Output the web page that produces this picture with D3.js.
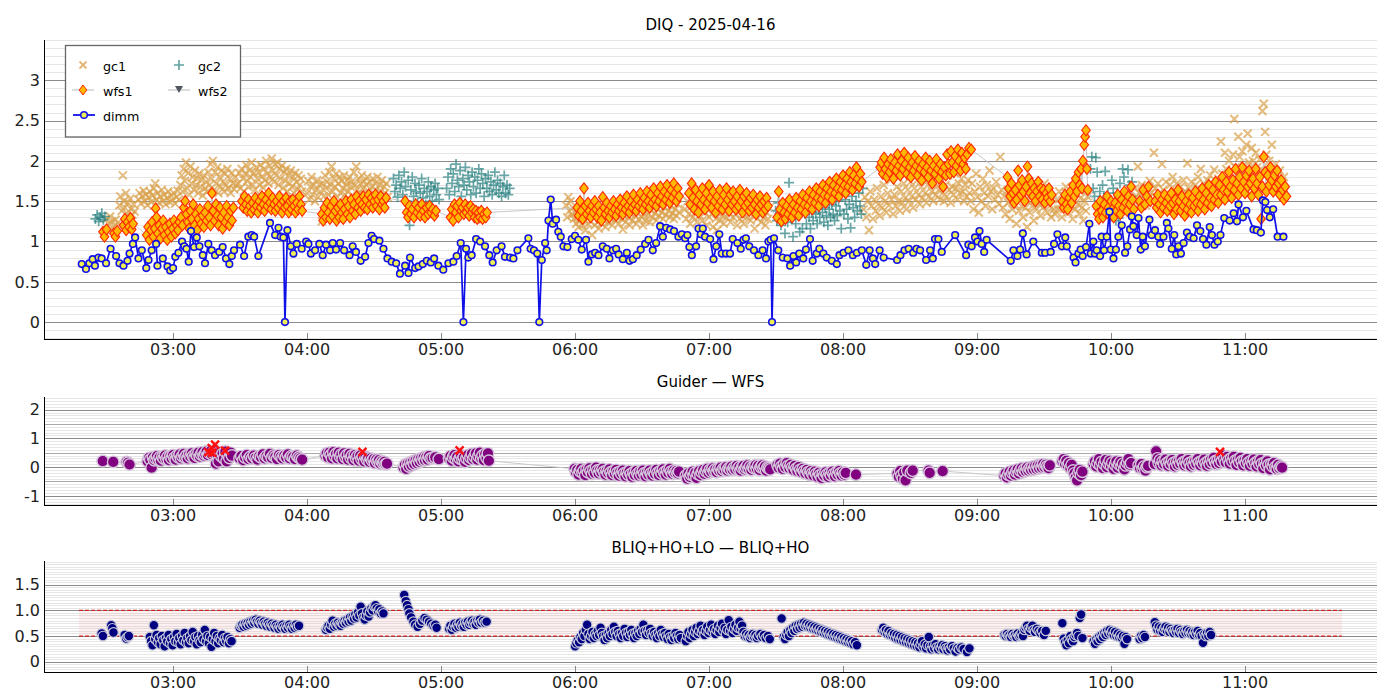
<!DOCTYPE html>
<html>
<head>
<meta charset="utf-8">
<script src="https://cdn.jsdelivr.net/npm/d3@7"></script>
<style>
body { margin: 0; background: #fff; }
text { font-family: "DejaVu Sans", sans-serif; }
</style>
</head>
<body>
<script>
// all times are minutes after 00:00 UT, values in arcsec
var dimm = [[139.1,.72],[141,.66],[142.5,.73],[144,.78],[145,.70],[146.6,.80],[148,.79],[150,.73],[152,.91],[154.5,.82],[156,.73],[157.8,.70],[159.6,.76],[160.5,.85],[162,.97],[163,1.05],[164.5,.79],[166,.89],[168,.67],[169,.77],[170.4,.89],[172.4,.97],[173,.70],[175.4,.79],[177.5,.69],[178.7,.64],[180,.67],[181,.81],[182.4,.86],[184,1.0],[185,.94],[186,.91],[187,.75],[188,1.13],[189.4,.93],[190.6,1.05],[191.8,.94],[193.3,.83],[194.3,.73],[195.8,.97],[197.3,.89],[198.8,.83],[200.7,.87],[202.2,.93],[203.7,.79],[205.2,.72],[206.3,.82],[207.3,.89],[210,.96],[211.8,.82],[213.7,1.06],[215.2,1.08],[216.3,1.06],[218.2,.82],[223.4,1.23],[225.7,1.08],[227.2,1.17],[228.2,1.06],[229.4,1.05],[230.1,0],[231.2,1.14],[232.7,.94],[233.9,.85],[235.4,.97],[237.6,.91],[239.6,1.0],[240.6,.97],[241.7,.85],[243.6,.89],[245.5,.97],[247,.83],[248.5,.96],[250.3,.89],[251.5,.98],[253,.90],[254.8,.98],[256.6,.89],[259,.83],[260.4,.94],[261.9,.87],[264,.76],[266,.81],[267.5,.98],[268.9,1.07],[270,1.03],[272.4,1.01],[274.2,.91],[276,.79],[277.9,.75],[279.9,.73],[281.6,.60],[283.9,.70],[285.4,.61],[286.1,.80],[288.4,.67],[289.9,.69],[291.8,.72],[293.6,.76],[295.4,.74],[296.9,.79],[298.8,.70],[301,.65],[303.3,.73],[305.5,.75],[307,.82],[308.8,.98],[310,0],[311.2,.91],[312.2,.80],[313.7,.83],[315.7,1.03],
[317.5,1.0],[319.7,.94],[321.6,.83],[323.1,.74],[324.9,.89],[327.1,.94],[328.6,.81],[330.9,.80],[332.4,.79],[334.2,.89],[339.1,1.04],[340.1,.91],[341.6,.89],[343.1,.85],[344,0],[345.1,.77],[346.6,.98],[347.3,.89],[348.1,1.26],[349.1,1.52],[350,1.22],[351.5,1.27],[352.5,1.12],[353.6,1.06],[354.8,.94],[356.6,.93],[358.5,1.03],[360,1.07],[361.5,1.02],[363,.90],[364.9,1.02],[366,.75],[367.5,.84],[369,.86],[370.5,.83],[372.4,.94],[374.2,.91],[375.4,.79],[376.9,.89],[378.4,.91],[379.5,.84],[381.4,.78],[383.2,.86],[384.4,.76],[385.9,.78],[387.6,.83],[389.4,.90],[391.4,.97],[392.9,1.02],[394.8,.89],[396.3,.98],[398.1,1.19],[399.3,1.06],[400.8,1.17],[402.6,1.15],[404.3,1.13],[406.3,1.06],[407.8,1.09],[409.3,1.04],[410.3,1.08],[411.2,.93],[412.3,.83],[414.2,.94],[415.3,1.16],[416.3,1.09],[417.2,1.16],[418.2,1.06],[420.5,1.03],[422,.78],[423.2,.94],[424.6,1.09],[425.7,.85],[427.6,.85],[429.4,.85],[430.6,1.03],[432.7,.98],[434.2,.91],[435.4,1.02],[436.5,1.04],[438,.94],[440.1,.89],[442.1,.83],[444,.89],[445.5,.79],[446.6,1.0],[447.6,1.02],[448.2,0],[449.1,1.04],[451,.89],[453,.80],[455.1,.79],[456.3,.70],[457.8,.82],[459,.74],[460.4,.85],[462.2,.79],[463.4,.90],[465.2,1.03],[466.4,.76],[468.2,.85],[469.4,.91],[471.2,.85],[472.7,.80],[475,.76],[477.2,.72],[478.4,.83],[480.2,.86],[482.4,.89],[484.4,.83],[486.2,.86],[488.4,.89],[490.4,.71],[491.9,.89],[493.4,.79],[494.4,.72],[496.4,.89],[498.2,.80],[504.2,.77],[505.7,.83],[507.5,.89],[509.4,.91],[511.4,.86],[512.9,.91],
[514.5,.89],[517.2,.77],[519,.89],[520.2,.79],[521.2,1.03],[522.7,1.03],[524.2,.87],[530.2,1.08],[535.1,.83],[536.1,.96],[537.6,.94],[539.1,1.05],[540.2,1.0],[541.1,1.13],[542.1,.97],[543.2,.87],[544.3,1.02],[555.1,.76],[556.3,.89],[558.1,.82],[559.3,.90],[560.5,1.10],[562.2,.84],[565.2,1.0],[569,.86],[570.5,.86],[573,.87],[574.5,.97],[576,1.09],[578,.94],[579.5,1.05],[580.2,.94],[583.2,.80],[584.1,.74],[585.4,.85],[586.4,.90],[587.3,.82],[588.8,.93],[590.3,1.22],[590.9,.85],[592.1,1.0],[592.8,.85],[593.6,.89],[595.1,.82],[595.8,1.06],[596.9,.89],[598.1,1.06],[599.3,1.37],[599.9,.90],[601.1,.79],[602.2,.90],[603.3,1.06],[604.8,1.20],[606.3,.86],[607.3,.94],[608.5,1.15],[609.3,1.31],[610,1.19],[611.5,1.08],[612.3,1.29],[613.3,.90],[614.2,1.06],[615.2,.94],[617.2,1.27],[618.2,1.08],[619.7,1.14],[621.2,1.06],[622,.97],[623.5,1.06],[625,1.23],[625.7,1.16],[627.2,.91],[628.3,1.08],[629.2,.84],[630.2,.94],[631.3,.85],[632.5,.98],[634,1.11],[635.2,1.06],[637,1.04],[638.5,1.20],[640,1.13],[641.2,1.03],[642.7,.96],[644.2,1.18],[645.2,1.08],[646.3,.96],[647.8,1.0],[649,1.08],[650.7,1.29],[653.1,1.26],[654.9,1.35],[656.4,1.25],[657.1,1.46],[659.1,1.30],[660.6,1.38],[663.8,1.15],[665.3,1.14],[667.1,1.11],[668,1.51],[669.1,1.49],[669.9,1.39],[671.1,1.30],[672.6,1.40],[674.6,1.06],[677.2,1.06]];

var gc1 = [[150,1.28],[151,1.22],[151.8,1.31],[152.6,1.25],[153.5,1.19],[154.3,1.27],[155.2,1.23],
[156,1.45],[156.4,1.56],[157,1.38],[157.5,1.82],[157.9,1.5],[158.4,1.42],[158.9,1.6],[159.3,1.35],[159.8,1.48],[160.3,1.3],[160.8,1.53],[161.3,1.4],[161.8,1.33],[162.3,1.46],[162.8,1.37],
[164.5,1.52],[165,1.6],[165.6,1.47],[166.2,1.56],[166.8,1.63],[167.3,1.5],[167.9,1.58],[168.5,1.45],[169,1.55],[169.6,1.62],[170.2,1.49],[170.8,1.57],[171.4,1.66],[172,1.72],[172.5,1.52],[173.1,1.6],[173.7,1.48],[174.3,1.56],[174.9,1.64],[175.5,1.5],[176.1,1.58],[176.7,1.46],[177.3,1.54],[177.9,1.62],[178.5,1.49],[179.1,1.57],[179.7,1.51],[180.3,1.6],[180.9,1.47],[181.5,1.55],[182.1,1.63],[182.7,1.52],
[183.3,1.7],[183.8,1.82],[184.3,1.62],[184.8,1.9],[185.3,1.75],[185.8,1.98],[186.3,1.66],[186.8,1.85],[187.3,1.58],[187.8,1.93],[188.3,1.72],[188.8,1.8],[189.3,1.64],[189.8,1.88],[190.3,1.7],[190.8,1.78],[191.3,1.6],[191.8,1.84],[192.3,1.68],[192.8,1.76],[193.3,1.57],[193.8,1.82],[194.3,1.66],[194.8,1.74],[195.3,1.62],[195.8,1.86],[196.3,1.7],[196.8,1.96],[197.3,1.78],[197.8,2.0],[198.3,1.64],[198.8,1.86],[199.3,1.72],[199.8,1.92],[200.3,1.6],[200.8,1.8],[201.3,1.68],[201.8,1.88],[202.3,1.74],[202.8,1.62],[203.3,1.84],[203.8,1.7],[204.3,1.9],[204.8,1.66],[205.3,1.78],[205.8,1.6],[206.3,1.85],[206.8,1.72],[207.3,1.65],[207.8,1.8],[208.3,1.7],
[209.2,1.72],[209.7,1.85],[210.2,1.66],[210.7,1.9],[211.2,1.78],[211.7,1.62],[212.2,1.84],[212.7,1.95],[213.2,1.75],[213.7,1.68],[214.2,1.88],[214.7,1.8],[215.2,1.98],[215.7,1.7],[216.2,1.85],[216.7,1.64],[217.2,1.92],[217.7,1.78],[218.2,1.86],[218.7,1.7],[219.2,1.95],[219.7,1.8],[220.2,1.67],[220.7,1.9],[221.2,1.76],[221.7,2.0],[222.2,1.84],[222.7,1.72],[223.2,1.94],[223.7,1.8],[224.2,2.03],[224.7,1.88],[225.2,1.74],[225.7,1.96],[226.2,1.82],[226.7,1.98],[227.2,1.7],[227.7,1.9],[228.2,1.78],[228.7,1.94],[229.2,1.66],[229.7,1.86],[230.2,1.75],[230.7,1.9],[231.2,1.62],[231.7,1.82],[232.2,1.72],[232.7,1.88],[233.2,1.68],[233.7,1.8],[234.2,1.6],[234.7,1.85],[235.2,1.74],[235.7,1.65],[236.2,1.82],[236.7,1.7],[237.2,1.78],[237.7,1.62],
[240,1.6],[240.5,1.75],[241,1.52],[241.5,1.68],[242,1.8],[242.5,1.58],[243,1.7],[243.5,1.5],[244,1.64],[244.5,1.76],[245,1.55],[245.5,1.7],[246,1.62],[246.6,1.25],[247,1.72],[247.5,1.56],[248,1.82],[248.5,1.66],[249,1.74],[249.5,1.58],[250,1.86],[250.5,1.7],[251,1.93],[251.5,1.62],[252,1.78],[252.5,1.68],[253,1.84],[253.5,1.55],[254,1.72],[254.5,1.8],[255,1.6],[255.5,1.75],[256,1.66],[256.5,1.82],[257,1.58],[257.5,1.7],[258,1.76],[258.5,1.62],[259,1.8],[259.5,1.68],[260,1.74],[260.5,1.56],[261,1.86],[261.5,1.7],[262,1.93],[262.5,1.64],[263,1.78],[263.5,1.6],[264,1.72],[264.5,1.82],[265,1.66],[265.5,1.75],[266,1.58],[266.5,1.7],[267,1.8],[267.5,1.62],[268,1.74],[268.5,1.55],[269,1.68],[269.5,1.78],[270,1.6],[270.5,1.72],[271,1.64],[271.5,1.8],[272,1.56],[272.5,1.7],[273,1.62],[273.5,1.76],[274,1.58],[274.5,1.68],[275,1.6],[275.5,1.72],[276,1.55],
[356,1.45],[356.5,1.3],[357,1.55],[357.5,1.38],[358,1.5],[358.5,1.33],[359,1.42],[359.5,1.28],[360,1.36],[360.5,1.22],[361,1.3],[361.6,1.18],[362.2,1.26],[362.8,1.34],[363.4,1.2],[364,1.28],[364.6,1.14],[365.2,1.3],[365.8,1.22],[366.4,1.36],[367,1.25],[367.6,1.08],[368.2,1.3],[368.8,1.2],[369.4,1.34],[370,1.24],[370.6,1.16],[371.2,1.3],[371.8,1.22],[372.4,1.38],[373,1.26],[373.6,1.18],[374.2,1.32],[374.8,1.24],[375.4,1.4],[376,1.28],[376.6,1.2],[377.2,1.34],[377.8,1.26],[378.4,1.42],[379,1.3],[379.6,1.22],[380.2,1.36],[380.8,1.28],[381.4,1.15],[382,1.32],[382.6,1.24],[383.2,1.4],[383.8,1.3],[384.4,1.2],[385,1.34],[385.6,1.26],[386.2,1.44],[386.8,1.32],[387.4,1.22],[388,1.36],[388.6,1.28],[389.2,1.42],[389.8,1.3],[390.4,1.2],[391,1.34],[391.6,1.26],[392.2,1.46],[392.8,1.34],[393.4,1.24],[394,1.38],[394.6,1.3],[395.2,1.48],[395.8,1.35],[396.4,1.26],[397,1.4],[397.6,1.32],[398.2,1.5],[398.8,1.36],[399.4,1.28],[400,1.42],[400.6,1.33],[401.2,1.52],[401.8,1.38],[402.4,1.3],[403,1.44],[403.6,1.35],[404.2,1.28],[404.8,1.4],[405.4,1.32],[406,1.46],[406.6,1.36],
[409.2,1.4],[409.8,1.28],[410.4,1.5],[411,1.34],[411.6,1.22],[412.2,1.44],[412.8,1.3],[413.4,1.52],[414,1.36],[414.6,1.24],[415.2,1.46],[415.8,1.32],[416.4,1.4],[417,1.26],[417.6,1.5],[418.2,1.36],[418.8,1.2],[419.4,1.42],[420,1.3],[420.6,1.48],[421.2,1.34],[421.8,1.18],[422.4,1.4],[423,1.28],[423.6,1.14],[424.2,1.36],[424.8,1.26],[425.4,1.44],[426,1.32],[426.6,1.22],[427.2,1.4],[427.8,1.3],[428.4,1.5],[429,1.36],[429.6,1.24],[430.2,1.42],[430.8,1.3],[431.4,1.46],[432,1.34],[432.6,1.2],[433.2,1.4],[433.8,1.28],[434.4,1.44],[435,1.32],[435.6,1.22],[436.2,1.4],[436.8,1.3],[437.4,1.5],[438,1.36],[438.6,1.26],[439.2,1.42],[439.8,1.32],[440.4,1.16],[441,1.38],[441.6,1.28],[442.2,1.46],[442.8,1.34],[443.4,1.24],[444,1.4],[444.6,1.3],[445.2,1.2],[445.8,1.36],[446.4,1.28],[447,1.42],
[489.2,1.4],[489.8,1.55],[490.4,1.3],[491,1.5],[491.6,1.14],[492.2,1.62],[492.8,1.44],[493.4,1.28],[494,1.52],[494.6,1.38],[495.2,1.66],[495.8,1.46],[496.4,1.32],[497,1.56],[497.6,1.42],[498.2,1.7],[498.8,1.5],[499.4,1.36],[500,1.6],[500.6,1.45],[501.2,1.76],[501.8,1.52],[502.4,1.34],[503,1.58],[503.6,1.44],[504.2,1.68],[504.8,1.5],[505.4,1.38],[506,1.62],[506.6,1.48],[507.2,1.72],[507.8,1.54],[508.4,1.4],[509,1.64],[509.6,1.5],[510.2,1.74],[510.8,1.56],[511.4,1.42],[512,1.66],[512.6,1.52],[513.2,1.76],[513.8,1.58],[514.4,1.46],[515,1.68],[515.6,1.54],[516.2,1.78],[516.8,1.6],[517.4,1.48],[518,1.7],[518.6,1.56],[519.2,1.82],[519.8,1.62],[520.4,1.5],[521,1.72],[521.6,1.58],[522.2,1.8],[522.8,1.64],[523.4,1.52],
[524,1.74],[524.6,1.6],[525.2,1.5],[525.8,1.7],[526.4,1.56],[527,1.82],[527.6,1.64],[528.2,1.48],[528.8,1.68],[529.4,1.58],[530,1.85],[530.6,1.66],[531.2,1.52],[531.8,1.72],[532.4,1.6],[533,1.78],[533.6,1.62],[534.2,1.5],[534.8,1.7],[535.4,1.56],[536,1.76],[536.6,1.6],
[537.2,1.5],[537.8,1.72],[538.4,1.4],[539,1.62],[539.6,1.84],[540.2,1.55],[540.8,1.36],[541.4,1.68],[542,1.5],[542.6,1.78],[543.2,1.6],[543.8,1.44],[544.4,1.7],[545,1.56],[545.6,1.88],[546.2,1.62],[546.8,1.4],[547.4,1.66],[548,1.52],[548.6,1.74],[549.2,1.58],[549.8,1.46],[550.4,2.05],[551,1.64],
[551.6,1.42],[552.2,1.56],[552.8,1.34],[553.4,1.62],[554,1.48],[554.6,1.28],[555.2,1.52],[555.8,1.4],[556.4,1.66],[557,1.46],[557.6,1.22],[558.2,1.54],[558.8,1.38],[559.4,1.6],[560,1.44],[560.6,1.3],[561.2,1.56],[561.8,1.42],[562.4,1.18],[563,1.5],[563.6,1.36],[564.2,1.58],[564.8,1.44],[565.4,1.26],[566,1.52],[566.6,1.4],[567.2,1.62],[567.8,1.46],[568.4,1.32],[569,1.54],[569.6,1.42],[570.2,1.72],[570.8,1.5],[571.4,1.36],[572,1.58],[572.6,1.44],[573.2,1.3],[573.8,1.52],[574.4,1.4],
[575,1.34],[575.6,1.52],[576.2,1.4],[576.8,1.62],[577.4,1.46],[578,1.3],[578.6,1.56],[579.2,1.42],[579.8,1.68],[580.4,1.5],[581,1.36],[581.6,1.58],[582.2,1.44],[582.8,1.28],[583.4,1.52],[584,1.4],[584.6,1.6],[585.2,1.46],[585.8,1.34],[586.4,1.54],[587,1.42],[587.6,1.26],[588.2,1.5],[588.8,1.38],[589.4,1.56],
[610.2,1.5],[610.8,1.66],[611.4,1.56],[612,1.93],[612.6,1.6],[613.2,1.48],[613.8,1.7],[614.4,1.56],[615,1.62],[615.6,1.45],[616.2,1.68],[616.8,1.54],[617.4,1.75],[618,1.6],[618.6,1.5],[619.2,2.1],[619.8,1.66],[620.4,1.55],[621,1.72],[621.6,1.6],[622.2,1.48],[622.8,1.96],[623.4,1.64],[624,1.52],[624.6,1.74],[625.2,1.6],[625.8,1.5],[626.4,1.7],[627,1.58],[627.6,1.8],[628.2,1.62],[628.8,1.5],[629.4,1.72],[630,1.6],[630.6,1.46],[631.2,1.68],[631.8,1.56],[632.4,1.76],[633,1.62],[633.6,1.52],[634.2,1.97],[634.8,1.66],[635.4,1.54],[636,1.74],[636.6,1.6],[637.2,1.5],[637.8,1.7],[638.4,1.58],[639,1.8],[639.6,1.64],[640.2,1.9],[640.8,1.56],[641.4,1.72],[642,1.6],[642.6,1.5],[643.2,1.76],[643.8,1.62],[644.4,1.82],[645,1.66],[645.6,1.56],[646.2,1.89],[646.8,1.7],[647.4,1.6],[648,1.78],[648.6,1.66],[649.2,2.24],[649.8,1.84],
[650.4,1.7],[651,2.1],[651.6,1.9],[652.2,1.76],[652.8,2.0],[653.4,1.84],[654,1.68],[654.6,2.08],[655.2,2.52],[655.8,1.92],[656.4,1.78],[657,2.3],[657.6,2.05],[658.2,1.86],[658.8,2.12],[659.4,1.95],[660,1.8],[660.6,2.2],[661.2,2.34],[661.8,1.98],[662.4,1.84],[663,2.16],[663.6,2.0],[664.2,1.88],[664.8,2.1],[665.4,1.92],[666,1.78],[666.6,2.02],[667.2,1.9],[667.8,2.62],[668.4,2.71],[669,2.36],[669.6,2.08],[670.2,1.86],[670.8,2.0],[671.4,1.8],[672,2.2],[672.6,1.9],[673.2,1.72],[673.8,1.96],[674.4,1.82],[675,1.66],[675.6,1.88],[676.2,1.74],[676.8,1.6],[677.4,1.8]];

var gc2 = [[145.2,1.28],[146,1.33],[146.7,1.25],[147.4,1.3],[148.1,1.35],[148.8,1.27],[149.5,1.31],
[278.7,1.78],[279.3,1.62],[279.9,1.7],[280.5,1.55],[281.1,1.82],[281.7,1.66],[282.3,1.74],[282.9,1.58],[283.5,1.86],[284.1,1.68],[284.7,1.5],[285.3,1.76],[285.9,1.2],[286.5,1.64],[287.1,1.8],[287.7,1.56],[288.3,1.72],[288.9,1.62],[289.5,1.48],[290.1,1.7],[290.7,1.6],[291.3,1.78],[291.9,1.54],[292.5,1.66],[293.1,1.46],[293.7,1.62],[294.3,1.74],[294.9,1.56],[295.5,1.68],[296.1,1.5],[296.7,1.64],[297.3,1.72],[297.9,1.58],[298.5,1.66],[299.1,1.52],
[302.5,1.66],[303.1,1.8],[303.7,1.58],[304.3,1.9],[304.9,1.72],[305.5,1.84],[306.1,1.62],[306.7,1.96],[307.3,1.76],[307.9,1.68],[308.5,1.88],[309.1,1.56],[309.7,1.78],[310.3,1.7],[310.9,1.92],[311.5,1.64],[312.1,1.82],[312.7,1.74],[313.3,1.58],[313.9,1.86],[314.5,1.68],[315.1,1.8],[315.7,1.6],[316.3,1.76],[316.9,1.9],[317.5,1.66],[318.1,1.84],[318.7,1.72],[319.3,1.56],[319.9,1.78],[320.5,1.66],[321.1,1.82],[321.7,1.62],[322.3,1.74],[322.9,1.58],[323.5,1.7],[324.1,1.86],[324.7,1.64],[325.3,1.76],[325.9,1.6],[326.5,1.72],[327.1,1.56],[327.7,1.68],[328.3,1.82],[328.9,1.6],[329.5,1.7],[330.1,1.58],[330.7,1.66],
[449.8,1.38],[450.4,1.26],[451,1.48],[451.6,1.32],[452.2,1.2],[452.8,1.42],[453.4,1.3],[454,1.1],[454.6,1.36],[455.2,1.24],[455.8,1.73],[456.4,1.4],[457,1.28],[457.6,1.06],[458.2,1.34],[458.8,1.22],[459.4,1.46],[460,1.32],[460.6,1.12],[461.2,1.38],[461.8,1.16],[462.4,1.5],[463,1.34],[463.6,1.22],[464.2,1.42],[464.8,1.3],[465.4,1.16],[466,1.36],[466.6,1.26],[467.2,1.48],[467.8,1.34],[468.4,1.22],[469,1.4],[469.6,1.3],[470.2,1.52],[470.8,1.36],[471.4,1.24],[472,1.42],[472.6,1.32],[473.2,1.2],[473.8,1.4],[474.4,1.3],[475,1.46],[475.6,1.34],[476.2,1.26],[476.8,1.44],[477.4,1.32],[478,1.5],[478.6,1.38],[479.2,1.16],[479.8,1.68],[480.4,1.34],[481,1.52],[481.6,1.4],[482.2,1.28],[482.8,1.46],[483.4,1.17],[484,1.56],[484.6,1.42],[485.2,1.3],[485.8,1.5],[486.4,1.38],[487,1.6],[487.6,1.44],[488.2,1.34],[488.8,1.66],
[590.8,1.9],[591.4,2.05],[592,1.66],[592.6,1.56],[593.2,2.04],[593.8,1.86],[594.4,1.5],[595,1.62],[595.6,1.42],[596.2,1.7],[596.8,1.54],[597.4,1.87],[598,1.46],[598.6,1.6],[599.2,1.29],[599.8,1.5],[600.4,1.76],[601,1.66],[601.6,1.52],[602.2,1.26],[602.8,1.6],[603.4,1.29],[604,1.72],[604.6,1.54],[605.2,1.9],[605.8,1.8],[606.4,1.58],[607,1.4],[607.6,1.89],[608.2,1.7],[608.8,1.56],[609.4,1.74],[610,1.5]];

var wfs1 = [[148.6,1.12],[149.3,1.06],[150.2,1.15],[153.5,1.1],[154.2,1.06],[155,1.13],
[157.8,1.2],[158.4,1.28],[159,1.14],[159.6,1.24],[160.3,1.18],[160.9,1.29],[161.5,1.15],[162.1,1.22],
[168.2,1.08],[168.8,1.18],[169.4,1.02],[170,1.14],[170.6,1.24],[171.2,1.06],[171.8,1.16],[172.2,1.41],[172.6,1.3],[173.2,1.1],[173.8,1.2],[174.4,1.04],[175,1.16],[175.6,1.26],[176.2,1.08],[176.8,1.18],[177.4,1.02],[178,1.12],[178.6,1.22],[179.2,1.06],[179.8,1.16],[180.4,1.26],[181,1.1],[181.6,1.2],[182.2,1.14],[182.8,1.24],
[183.6,1.3],[184.2,1.2],[184.8,1.42],[185.4,1.5],[186,1.34],[186.6,1.24],[187.2,1.16],[187.8,1.38],[188.4,1.28],[189,1.46],[189.6,1.2],[190.2,1.34],[190.8,1.14],[191.4,1.28],[192,1.4],[192.6,1.22],[193.2,1.32],[193.8,1.18],[194.4,1.36],[195,1.26],[195.6,1.44],[196.2,1.3],[196.8,1.2],[197.4,1.6],[198,1.38],[198.6,1.26],[199.2,1.46],[199.8,1.32],[200.4,1.2],[201,1.42],[201.6,1.3],[202.2,1.16],[202.8,1.36],[203.4,1.24],[204,1.44],[204.6,1.3],[205.2,1.2],[205.8,1.38],[206.4,1.26],[207,1.42],
[210.8,1.5],[211.4,1.42],[212,1.56],[212.6,1.46],[213.2,1.38],[213.8,1.52],[214.4,1.44],[215,1.36],[215.6,1.48],[216.2,1.4],[216.8,1.54],[217.4,1.44],[218,1.36],[218.6,1.5],[219.2,1.42],[219.8,1.56],[220.4,1.46],[221,1.38],[221.6,1.52],[222.2,1.44],[222.8,1.6],[223.4,1.48],[224,1.4],[224.6,1.54],[225.2,1.46],[225.8,1.38],[226.4,1.5],[227,1.42],[227.6,1.56],[228.2,1.46],[228.8,1.36],[229.4,1.5],[230,1.42],[230.6,1.54],[231.2,1.44],[231.8,1.36],[232.4,1.5],[233,1.4],[233.6,1.52],[234.2,1.44],[234.8,1.36],[235.4,1.48],[236,1.4],[236.6,1.56],[237.2,1.46],[237.8,1.38],
[246.6,1.34],[247.2,1.26],[247.8,1.42],[248.4,1.3],[249,1.48],[249.6,1.36],[250.2,1.28],[250.8,1.44],[251.4,1.32],[252,1.5],[252.6,1.38],[253.2,1.26],[253.8,1.42],[254.4,1.3],[255,1.46],[255.6,1.36],[256.2,1.28],[256.8,1.4],[257.4,1.5],[258,1.34],[258.6,1.44],[259.2,1.3],[259.8,1.52],[260.4,1.38],[261,1.46],[261.6,1.34],[262.2,1.56],[262.8,1.42],[263.4,1.5],[264,1.38],[264.6,1.46],[265.2,1.56],[265.8,1.42],[266.4,1.52],[267,1.4],[267.6,1.58],[268.2,1.46],[268.8,1.54],[269.4,1.42],[270,1.5],[270.6,1.58],[271.2,1.44],[271.8,1.52],[272.4,1.4],[273,1.56],[273.6,1.46],[274.2,1.5],[274.8,1.42],[275.4,1.54],
[283.9,1.5],[284.6,1.36],[285.2,1.3],[285.8,1.44],[286.5,1.34],[287.2,1.4],[287.9,1.3],[288.6,1.46],[289.3,1.36],[290,1.42],[290.7,1.32],[291.4,1.46],[292.1,1.38],[292.8,1.3],[293.5,1.42],[294.2,1.34],[294.9,1.44],[295.6,1.36],[296.3,1.4],[297,1.32],[297.7,1.38],
[304.2,1.3],[304.8,1.4],[305.4,1.26],[306,1.46],[306.6,1.36],[307.2,1.44],[307.8,1.3],[308.4,1.48],[309,1.38],[309.6,1.42],[310.2,1.34],[310.8,1.46],[311.4,1.36],[312,1.42],[312.6,1.32],[313.2,1.44],[313.8,1.36],[314.4,1.4],[315,1.3],[315.6,1.38],[316.2,1.28],[316.8,1.36],[317.4,1.3],[318,1.38],[318.6,1.28],[319.2,1.34],[320,1.3],[320.6,1.36],
[361,1.42],[361.6,1.32],[362.2,1.5],[362.8,1.38],[363.4,1.28],[364,1.66],[364.6,1.44],[365.2,1.34],[365.8,1.48],[366.4,1.38],[367,1.3],[367.6,1.44],[368.2,1.36],[368.8,1.5],[369.4,1.4],[370,1.3],[370.6,1.44],[371.2,1.36],[371.8,1.26],[372.4,1.55],[373,1.42],[373.6,1.34],[374.2,1.48],[374.8,1.38],[375.4,1.3],[376,1.44],[376.6,1.36],[377.2,1.5],[377.8,1.4],[378.4,1.32],[379,1.46],[379.6,1.38],[380.2,1.52],[380.8,1.42],[381.4,1.34],[382,1.48],[382.6,1.4],[383.2,1.56],[383.8,1.44],[384.4,1.36],[385,1.5],[385.6,1.42],[386.2,1.58],[386.8,1.46],[387.4,1.38],[388,1.52],[388.6,1.44],[389.2,1.6],[389.8,1.48],[390.4,1.4],[391,1.54],[391.6,1.46],[392.2,1.62],[392.8,1.5],[393.4,1.42],[394,1.58],[394.6,1.48],[395.2,1.66],[395.8,1.52],[396.4,1.44],[397,1.6],[397.6,1.5],[398.2,1.68],[398.8,1.56],[399.4,1.46],[400,1.62],[400.6,1.52],[401.2,1.7],[401.8,1.58],[402.4,1.48],[403,1.64],[403.6,1.54],[404.2,1.72],[404.8,1.6],[405.4,1.5],[406,1.66],[406.6,1.56],
[411,1.6],[411.6,1.46],[412.2,1.72],[412.8,1.54],[413.4,1.4],[414,1.64],[414.6,1.5],[415.2,1.36],[415.8,1.58],[416.4,1.46],[417,1.66],[417.6,1.52],[418.2,1.4],[418.8,1.6],[419.4,1.48],[420,1.7],[420.6,1.54],[421.2,1.42],[421.8,1.62],[422.4,1.5],[423,1.36],[423.6,1.56],[424.2,1.44],[424.8,1.64],[425.4,1.5],[426,1.4],[426.6,1.58],[427.2,1.46],[427.8,1.66],[428.4,1.52],[429,1.38],[429.6,1.58],[430.2,1.46],[430.8,1.62],[431.4,1.5],[432,1.4],[432.6,1.56],[433.2,1.44],[433.8,1.64],[434.4,1.5],[435,1.36],[435.6,1.56],[436.2,1.44],[436.8,1.6],[437.4,1.48],[438,1.38],[438.6,1.54],[439.2,1.42],[439.8,1.58],[440.4,1.46],[441,1.34],[441.6,1.52],[442.2,1.42],[442.8,1.56],[443.4,1.46],[444,1.36],[444.6,1.5],[445.2,1.4],[445.8,1.54],[446.4,1.44],
[450.5,1.3],[451.2,1.62],[451.8,1.4],[452.4,1.25],[453,1.48],[453.6,1.36],[454.2,1.28],[454.8,1.44],[455.4,1.34],[456,1.52],[456.6,1.4],[457.2,1.3],[457.8,1.46],[458.4,1.36],[459,1.54],[459.6,1.42],[460.2,1.32],[460.8,1.5],[461.4,1.4],[462,1.58],[462.6,1.46],[463.2,1.36],[463.8,1.54],[464.4,1.44],[465,1.62],[465.6,1.5],[466.2,1.4],[466.8,1.58],[467.4,1.48],[468,1.66],[468.6,1.54],[469.2,1.44],[469.8,1.62],[470.4,1.52],[471,1.7],[471.6,1.58],[472.2,1.48],[472.8,1.66],[473.4,1.56],[474,1.74],[474.6,1.62],[475.2,1.52],[475.8,1.7],[476.4,1.6],[477,1.78],[477.6,1.66],[478.2,1.56],[478.8,1.74],[479.4,1.64],[480,1.82],[480.6,1.7],[481.2,1.6],[481.8,1.78],[482.4,1.68],[483,1.86],[483.6,1.74],[484.2,1.64],[484.8,1.82],[485.4,1.72],[486,1.92],[486.6,1.78],[487.2,1.68],[487.8,1.84],[488.4,1.74],
[496.6,1.92],[497.2,1.98],[497.8,1.84],[498.4,2.04],[499,1.9],[499.6,1.8],[500.2,1.96],[500.8,1.86],[501.4,2.02],[502,1.92],[502.6,1.78],[503.2,1.98],[503.8,1.88],[504.4,2.08],[505,1.94],[505.6,1.82],[506.2,2.0],[506.8,1.9],[507.4,2.1],[508,1.96],[508.6,1.84],[509.2,2.04],[509.8,1.92],[510.4,1.8],[511,1.98],[511.6,1.88],[512.2,2.06],[512.8,1.94],[513.4,1.82],[514,2.0],[514.6,1.9],[515.2,1.76],[515.8,1.96],[516.4,1.86],[517,2.04],[517.6,1.92],[518.2,1.8],[518.8,2.0],[519.4,1.88],[520,1.72],[520.6,1.94],[521.2,1.84],[521.8,2.02],[522.4,1.9],[523,1.78],[523.6,1.96],[524.2,1.86],[524.8,1.68],[525.4,1.92],[526,1.82],[526.6,2.08],[527.2,1.96],[527.8,1.84],[528.4,2.12],[529,1.98],[529.6,1.86],[530.2,2.06],[530.8,1.94],[531.4,2.14],[532,2.0],[532.6,1.88],[533.2,2.1],[533.8,1.96],[534.4,2.04],[535,1.9],[535.6,2.08],[536.4,2.16],[537.4,2.14],
[553.6,1.8],[554.2,1.66],[554.8,1.56],[555.4,1.72],[556,1.6],[556.6,1.48],[557.2,1.64],[557.8,1.52],[558.4,1.88],[559,1.7],[559.6,1.58],[560.2,1.76],[560.8,1.62],[561.4,1.5],[562,1.68],[562.6,1.93],[563.2,1.78],[563.8,1.6],[564.4,1.72],[565,1.56],[565.6,1.66],[566.2,1.5],[566.8,1.62],[567.4,1.74],[568,1.56],[568.6,1.66],[569.2,1.52],[569.8,1.64],[570.4,1.48],[571,1.6],[571.6,1.54],[572.2,1.66],[572.8,1.5],[573.4,1.58],
[578.2,1.5],[578.8,1.42],[579.4,1.58],[580,1.46],[580.6,1.4],[581.2,1.54],[581.8,1.62],[582.4,1.48],[583,1.7],[583.6,1.56],[584.2,1.78],[584.8,1.62],[585.4,1.86],[586,1.7],[586.6,1.9],[587,1.66],[587.4,2.0],[588,2.2],[588.4,2.3],[588.8,2.38],[589.2,1.9],[589.6,1.64],
[593.4,1.44],[594,1.34],[594.6,1.28],[595.2,1.5],[595.8,1.38],[596.4,1.3],[597,1.46],[597.6,1.36],[598.2,1.56],[598.8,1.42],[599.4,1.32],[600,1.5],[600.6,1.4],[601.2,1.3],[601.8,1.48],[602.4,1.38],[603,1.58],[603.6,1.44],[604.2,1.34],[604.8,1.52],[605.4,1.42],[606,1.62],[606.6,1.48],[607.2,1.38],[607.8,1.56],[608.4,1.46],[609,1.68],[609.6,1.52],[610.2,1.4],
[612.8,1.5],[613.6,1.42],[614.4,1.64],[615.2,1.46],[616,1.56],[616.8,1.68],[617.6,1.5],
[619.8,1.5],[620.4,1.42],[621,1.58],[621.6,1.46],[622.2,1.36],[622.8,1.52],[623.4,1.42],[624,1.58],[624.6,1.48],[625.2,1.38],[625.8,1.54],[626.4,1.44],[627,1.6],[627.6,1.48],[628.2,1.34],[628.8,1.52],[629.4,1.4],[630,1.64],[630.6,1.5],[631.2,1.38],[631.8,1.56],[632.4,1.44],[633,1.32],[633.6,1.5],[634.2,1.4],[634.8,1.58],[635.4,1.46],[636,1.36],[636.6,1.54],[637.2,1.44],[637.8,1.62],[638.4,1.48],[639,1.38],[639.6,1.56],[640.2,1.46],[640.8,1.66],[641.4,1.52],[642,1.4],[642.6,1.6],[643.2,1.48],[643.8,1.7],[644.4,1.54],[645,1.44],[645.6,1.64],[646.2,1.52],[646.8,1.74],[647.4,1.58],[648,1.48],[648.6,1.7],[649.2,1.58],[649.8,1.8],[650.4,1.64],[651,1.52],[651.6,1.74],[652.2,1.62],[652.8,1.86],[653.4,1.68],[654,1.54],[654.6,1.76],[655.2,1.64],[655.8,1.9],[656.4,1.72],[657,1.58],[657.6,1.8],[658.2,1.66],[658.8,1.92],[659.4,1.74],[660,1.6],[660.6,1.82],[661.2,1.68],[661.8,1.88],[662.4,1.72],[663,1.56],[663.6,1.78],[664.2,1.66],[664.8,1.9],[665.4,1.72],[666,1.58],[666.6,1.8],[667.2,1.28],[667.8,1.68],[668.4,2.05],[669,1.86],[669.6,1.62],[670.2,1.82],[670.8,1.7],[671.4,1.92],[672,1.76],[672.6,1.62],[673.2,1.82],[673.8,1.68],[674.4,1.88],[675,1.72],[675.6,1.58],[676.2,1.76],[676.8,1.64],[677.4,1.52],[678,1.68],[678.6,1.56]];

var wfs2 = [];

var guiderWfs = [[148.5,.21],[153.2,.18],[159.2,.18],[159.8,.15],[160.5,.09],
[168.6,.2],[169.2,.32],[169.8,.26],[170.4,-.02],[171,.34],[171.6,.24],[172.2,.3],[172.8,.38],[173.4,.26],[174,.34],[174.6,.22],[175.2,.36],[175.8,.3],[176.4,.4],[177,.28],[177.6,.36],[178.2,.24],[178.8,.38],[179.4,.3],[180,.42],[180.6,.32],[181.2,.26],[181.8,.4],[182.4,.34],[183,.44],[183.6,.3],[184.2,.38],[184.8,.46],[185.4,.34],[186,.4],[186.6,.3],[187.2,.44],[187.8,.36],[188.4,.48],[189,.38],[189.6,.32],[190.2,.46],[190.8,.4],[191.4,.5],[192,.36],[192.6,.44],[193.2,.52],[193.8,.4],[194.4,.46],[195,.54],[195.6,.42],[196.2,.5],[196.8,.56],[197.4,.44],[198,.5],[198.6,.58],[199.2,.12],[199.8,.46],[200.4,.2],[201,.52],[201.6,.38],[202.2,.48],[202.8,.3],[203.4,.54],[204,.2],[204.6,.44],[205.2,.32],[205.8,.5],[206.4,.4],
[209.8,.3],[210.6,.38],[211.4,.24],[212.2,.34],[213,.42],[213.8,.28],[214.6,.36],[215.4,.3],[216.2,.4],[217,.32],[217.8,.26],[218.6,.38],[219.4,.34],[220.2,.44],[221,.3],[221.8,.38],[222.6,.34],[223.4,.46],[224.2,.32],[225,.4],[225.8,.36],[226.6,.28],[227.4,.42],[228.2,.36],[229,.3],[229.8,.4],[230.6,.34],[231.4,.44],[232.2,.3],[233,.38],[233.8,.36],[234.6,.28],[235.4,.4],[236.2,.34],[237,.3],[237.8,.26],
[248.2,.4],[248.8,.48],[249.4,.34],[250,.5],[250.6,.42],[251.2,.3],[251.8,.52],[252.4,.38],[253,.46],[253.6,.3],[254.2,.5],[254.8,.36],[255.4,.44],[256,.28],[256.6,.48],[257.2,.34],[257.8,.42],[258.4,.26],[259,.46],[259.6,.32],[260.2,.4],[260.8,.24],[261.4,.42],[262,.3],[262.6,.38],[263.2,.22],[263.8,.4],[264.4,.28],[265,.36],[265.6,.2],[266.2,.36],[266.8,.26],[267.4,.32],[268,.18],[268.6,.3],[269.2,.22],[269.8,.28],[270.4,.14],[271,.26],[271.6,.18],[272.2,.24],[272.8,.12],[273.4,.2],[274,.14],[274.6,.18],[275.2,.1],[275.8,.12],
[283.2,-.02],[283.8,.08],[284.4,-.06],[285,.12],[285.6,.02],[286.2,.16],[286.8,.06],[287.4,.2],[288,.1],[288.6,.24],[289.2,.14],[289.8,.28],[290.4,.18],[291,.3],[291.6,.22],[292.2,.34],[292.8,.24],[293.4,.36],[294,.26],[294.6,.38],[295.4,.3],[296.2,.32],[297.4,.34],[299,.28],
[303.6,.3],[304.2,.38],[304.8,.22],[305.4,.34],[306,.42],[306.6,.28],[307.2,.36],[307.8,.2],[308.4,.3],[309,.4],[309.6,.26],[310.2,.34],[310.8,.18],[311.4,.3],[312,.42],[312.6,.24],[313.2,.34],[313.8,.46],[314.4,.28],[315,.36],[315.6,.48],[316.2,.26],[316.8,.38],[317.4,.5],[318,.3],[318.6,.4],[319.2,.24],[319.8,.46],[320.4,.32],[321,.48],[321.4,.22],
[359.8,-.06],[360.4,-.18],[361,-.1],[361.6,-.26],[362.2,-.14],[362.8,-.06],[363.4,-.2],[364,-.12],[364.6,-.28],[365.2,-.08],[365.8,-.18],[366.4,-.04],[367,-.14],[367.6,-.24],[368.2,-.1],[368.8,-.2],[369.4,-.02],[370,-.12],[370.6,-.22],[371.2,-.1],[371.8,-.18],[372.4,-.06],[373,-.16],[373.6,-.26],[374.2,-.12],[374.8,-.2],[375.4,-.08],[376,-.18],[376.6,-.28],[377.2,-.14],[377.8,-.22],[378.4,-.1],[379,-.2],[379.6,-.3],[380.2,-.16],[380.8,-.24],[381.4,-.12],[382,-.22],[382.6,-.32],[383.2,-.18],[383.8,-.26],[384.4,-.14],[385,-.24],[385.6,-.34],[386.2,-.18],[386.8,-.28],[387.4,-.14],[388,-.24],[388.6,-.3],[389.2,-.16],[389.8,-.26],[390.4,-.12],[391,-.22],[391.6,-.32],[392.2,-.18],[392.8,-.26],[393.4,-.12],[394,-.22],[394.6,-.3],[395.2,-.16],[395.8,-.24],[396.4,-.1],[397,-.2],[397.6,-.28],[398.2,-.14],[398.8,-.22],[399.4,-.08],[400,-.18],[400.6,-.26],[401.2,-.12],[401.8,-.2],[402.4,-.06],[403,-.16],[403.6,-.24],[404.2,-.12],[404.8,-.2],[405.4,-.14],[406,-.22],[406.6,-.16],
[409.6,-.3],[410.2,-.4],[410.8,-.22],[411.4,-.34],[412,-.26],[412.6,-.16],[413.2,-.3],[413.8,-.2],[414.4,-.38],[415,-.24],[415.6,-.14],[416.2,-.28],[416.8,-.18],[417.4,-.1],[418,-.24],[418.6,-.14],[419.2,-.06],[419.8,-.2],[420.4,-.1],[421,-.16],[421.6,-.04],[422.2,-.14],[422.8,-.08],[423.4,-.18],[424,-.06],[424.6,-.12],[425.2,-.02],[425.8,-.14],[426.4,-.06],[427,-.1],[427.6,0],[428.2,-.12],[428.8,-.04],[429.4,-.08],[430,.02],[430.6,-.1],[431.2,-.02],[431.8,-.08],[432.4,.04],[433,-.06],[433.6,0],[434.2,-.12],[434.8,-.02],[435.4,.04],[436,-.08],[436.6,-.02],[437.2,.06],[437.8,-.06],[438.4,.02],[439,-.1],[439.6,0],[440.2,-.04],[440.8,.06],[441.4,-.06],[442,.04],[442.6,-.1],[443.2,0],[443.8,.06],[444.4,-.04],[445,.02],[445.6,-.12],[446.2,-.02],[446.8,-.04],[447.4,-.08],
[450.6,.08],[451.2,-.02],[451.8,.12],[452.4,.02],[453,-.06],[453.6,.1],[454.2,0],[454.8,.14],[455.4,.04],[456,-.04],[456.6,.08],[457.2,-.02],[457.8,-.1],[458.4,.04],[459,-.06],[459.6,-.14],[460.2,0],[460.8,-.1],[461.4,-.18],[462,-.06],[462.6,-.14],[463.2,-.22],[463.8,-.1],[464.4,-.18],[465,-.26],[465.6,-.14],[466.2,-.22],[466.8,-.3],[467.4,-.16],[468,-.24],[468.6,-.34],[469.2,-.2],[469.8,-.28],[470.4,-.38],[471,-.22],[471.6,-.3],[472.2,-.18],[472.8,-.26],[473.4,-.34],[474,-.2],[474.6,-.28],[475.2,-.16],[475.8,-.24],[476.4,-.32],[477,-.18],[477.6,-.26],[478.2,-.14],[478.8,-.22],[479.4,-.3],[480,-.18],[480.6,-.26],[481.2,-.2],
[485.8,-.26],[504.4,-.22],[505,-.34],[505.6,-.14],[506.2,-.28],[506.8,-.4],[507.4,-.18],[508,-.46],[508.8,-.12],[510.4,-.2],[511.2,-.12],[518.3,-.12],[518.8,-.2],[524.6,-.14],
[552.2,-.3],[552.8,-.22],[553.4,-.36],[554,-.26],[554.6,-.16],[555.2,-.3],[555.8,-.2],[556.4,-.12],[557,-.26],[557.6,-.16],[558.2,-.08],[558.8,-.22],[559.4,-.12],[560,-.04],[560.6,-.18],[561.2,-.08],[561.8,-.14],[562.4,-.02],[563,-.12],[563.6,-.04],[564.2,-.1],[564.8,.02],[565.4,-.08],[566,.04],[566.6,-.06],[567.2,.06],[567.8,-.04],[568.4,.08],[569,-.02],[569.6,.1],[570.2,0],[570.8,.08],[571.4,.02],[572,-.04],[572.6,.06],
[578.2,.2],[578.8,.28],[579.4,.12],[580,.22],[580.6,.06],[581.2,.14],[581.8,-.04],[582.4,.08],[583,-.12],[583.6,-.22],[584.2,-.36],[584.8,-.46],[585.4,-.2],[586,-.1],[586.6,-.28],[587.2,-.16],
[592.2,.1],[592.8,.2],[593.4,.02],[594,.14],[594.6,.28],[595.2,.06],[595.8,.18],[596.4,-.04],[597,.1],[597.6,.24],[598.2,0],[598.8,.12],[599.4,.22],[600,.04],[600.6,.16],[601.2,-.06],[601.8,.08],[602.4,.2],[603,-.02],[603.6,.1],[604.2,.18],[604.8,.02],[605.4,.12],[606,-.08],[606.6,.06],[607.2,.16],[607.8,.28],[608.4,.08],[609,.14],
[612.4,.06],[613,-.04],[613.6,.1],[614.2,-.06],[614.8,.02],[615.4,-.12],[616,0],[616.6,.04],
[619.6,.1],[620.2,.55],[620.8,.3],[621.4,.14],[622,.24],[622.6,.06],[623.2,.2],[623.8,.1],[624.4,.26],[625,.14],[625.6,.04],[626.2,.2],[626.8,.1],[627.4,.24],[628,.14],[628.6,.02],[629.2,.18],[629.8,.08],[630.4,.22],[631,.12],[631.6,.28],[632.2,.16],[632.8,.06],[633.4,.2],[634,.1],[634.6,.24],[635.2,.14],[635.8,.02],[636.4,.18],[637,.08],[637.6,.22],[638.2,.12],[638.8,.28],[639.4,.16],[640,.06],[640.6,.2],[641.2,.12],[641.8,.26],[642.4,.14],[643,.04],[643.6,.2],[644.2,.1],[644.8,.26],[645.4,.16],[646,.32],[646.6,.2],[647.2,.1],[647.8,.24],[648.4,.14],[649,.3],[649.6,.2],[650.2,.4],[650.8,.28],[651.4,.16],[652,.36],[652.6,.24],[653.2,.12],[653.8,.3],[654.4,.2],[655,.36],[655.6,.22],[656.2,.08],[656.8,.26],[657.4,.16],[658,.32],[658.6,.2],[659.2,.06],[659.8,.24],[660.4,.14],[661,.28],[661.6,.16],[662.2,.04],[662.8,.22],[663.4,.12],[664,.26],[664.6,.14],[665.2,.02],[665.8,.2],[666.4,.1],[667,.24],[667.6,.12],[668.2,-.04],[668.8,.16],[669.4,.06],[670,.2],[670.6,.08],[671.2,-.08],[671.8,.1],[672.4,.02],[673,.14],[673.6,0],[674.2,-.06],[674.8,.08],[675.4,-.04],[676,.02],[676.6,-.02]];

var guiderWfsFlagged = [[195.8,.52],[197.3,.66],[197.5,.5],[198.8,.78],[203.3,.57],[264.8,.53],[308.3,.58],[648.8,.53]];

var bliqDiff = [[148,.55],[148.6,.5],[152.3,.71],[152.8,.65],[153.3,.57],[158.3,.52],[159,.45],[159.6,.48],[160.2,.5],
[169.6,.48],[170.2,.4],[170.8,.32],[171.4,.71],[172,.44],[172.6,.52],[173.2,.38],[173.8,.46],[174.4,.34],[175,.5],[175.6,.42],[176.2,.3],[176.8,.46],[177.4,.4],[178,.52],[178.6,.36],[179.2,.44],[179.8,.32],[180.4,.48],[181,.4],[181.6,.54],[182.2,.38],[182.8,.46],[183.4,.34],[184,.5],[184.6,.42],[185.2,.56],[185.8,.38],[186.4,.46],[187,.36],[187.6,.5],[188.2,.42],[188.8,.58],[189.4,.4],[190,.48],[190.6,.34],[191.2,.5],[191.8,.42],[192.4,.38],[193,.52],[193.6,.44],[194.2,.62],[194.8,.4],[195.4,.5],[196,.36],[196.6,.48],[197.2,.29],[197.8,.44],[198.4,.56],[199,.4],[199.6,.5],[200.2,.36],[200.8,.46],[201.4,.42],[202,.52],[202.6,.38],[203.2,.46],[203.8,.4],[204.4,.48],[205,.36],[205.6,.44],[206.2,.4],
[209.8,.66],[210.4,.7],[211,.72],[211.6,.68],[212.2,.74],[212.8,.7],[213.4,.76],[214,.72],[214.6,.78],[215.2,.74],[215.8,.8],[216.4,.76],[217,.82],[217.6,.78],[218.2,.74],[218.8,.8],[219.4,.76],[220,.72],[220.6,.78],[221.2,.74],[221.8,.7],[222.4,.76],[223,.72],[223.6,.68],[224.2,.74],[224.8,.7],[225.4,.66],[226,.72],[226.6,.68],[227.2,.64],[227.8,.7],[228.4,.66],[229,.72],[229.6,.68],[230.2,.64],[230.8,.7],[231.4,.66],[232,.72],[232.6,.68],[233.2,.64],[233.8,.7],[234.4,.66],[235,.72],[235.6,.68],[236.4,.7],
[248.4,.62],[249,.66],[249.6,.7],[250.2,.64],[250.8,.72],[251.4,.8],[252,.68],[252.6,.74],[253.2,.7],[253.8,.76],[254.4,.72],[255,.7],[255.6,.76],[256.2,.74],[256.8,.8],[257.4,.76],[258,.82],[258.6,.78],[259.2,.86],[259.8,.8],[260.4,.88],[261,.84],[261.6,.92],[262.2,.86],[262.8,.96],[263.4,.9],[264,1.07],[264.6,.94],[265.2,.86],[265.8,.82],[266.4,.9],[267,.98],[267.6,.88],[268.2,.96],[268.8,1.04],[269.4,1.0],[270,1.08],[270.6,1.1],[271.2,1.04],[271.8,.98],[272.4,1.02],[273,.94],[273.6,.98],[274.2,.94],
[283.5,1.3],[284.2,1.18],[284.8,1.1],[285.4,1.02],[285.8,.94],[286.6,.86],[287.6,.78],[288.4,.72],[289.5,.68],[290.6,.74],[291.6,.8],[292.6,.85],[293.6,.82],[294.6,.78],[295.6,.74],[296.6,.7],[297.4,.72],[298,.66],
[303.6,.64],[304.2,.7],[304.8,.62],[305.4,.68],[306,.74],[306.6,.66],[307.2,.72],[307.8,.68],[308.4,.76],[309,.7],[309.6,.74],[310.2,.68],[310.8,.76],[311.4,.72],[312,.78],[312.6,.72],[313.2,.76],[313.8,.8],[314.4,.74],[315,.78],[315.6,.72],[316.2,.8],[316.8,.76],[317.4,.82],[318,.76],[318.8,.8],[319.6,.76],[320.4,.78],
[360,.3],[360.6,.36],[361.2,.42],[361.8,.38],[362.4,.48],[363,.44],[363.6,.56],[364.2,.5],[364.8,.62],[365.4,.72],[366,.54],[366.6,.44],[367.2,.5],[367.8,.58],[368.4,.46],[369,.54],[369.6,.5],[370.2,.6],[370.8,.52],[371.4,.66],[372,.56],[372.6,.5],[373.2,.42],[373.8,.52],[374.4,.46],[375,.56],[375.6,.5],[376.2,.62],[376.8,.54],[377.4,.68],[378,.58],[378.6,.5],[379.2,.6],[379.8,.54],[380.4,.46],[381,.56],[381.6,.5],[382.2,.64],[382.8,.56],[383.4,.48],[384,.58],[384.6,.52],[385.2,.62],[385.8,.54],[386.4,.46],[387,.56],[387.6,.5],[388.2,.6],[388.8,.54],[389.4,.64],[390,.58],[390.6,.72],[391.2,.6],[391.8,.52],[392.4,.62],[393,.56],[393.6,.64],[394.2,.56],[394.8,.5],[395.4,.58],[396,.52],[396.6,.46],[397.2,.56],[397.8,.5],[398.4,.62],[399,.54],[399.6,.48],[400.2,.56],[400.8,.5],[401.4,.44],[402,.54],[402.6,.48],[403.2,.42],[403.8,.5],[404.4,.46],[405,.56],[405.6,.5],[406.2,.44],[406.8,.52],[407.4,.46],
[409.6,.4],[410.2,.5],[410.8,.58],[411.4,.46],[412,.54],[412.6,.62],[413.2,.5],[413.8,.58],[414.4,.66],[415,.54],[415.6,.6],[416.2,.7],[416.8,.56],[417.4,.62],[418,.52],[418.6,.6],[419.2,.68],[419.8,.56],[420.4,.62],[421,.72],[421.6,.58],[422.2,.64],[422.8,.54],[423.4,.62],[424,.7],[424.6,.58],[425.2,.66],[425.8,.74],[426.4,.6],[427,.66],[427.6,.54],[428.2,.62],[428.8,.81],[429.4,.6],[430,.68],[430.6,.56],[431.2,.64],[431.8,.72],[432.4,.6],[433,.66],[433.6,.78],[434.2,.64],[434.8,.7],[435.4,.58],[436,.5],[436.6,.54],[437.2,.48],[437.8,.52],[438.4,.46],[439,.5],[439.6,.54],[440.2,.48],[440.8,.52],[441.4,.46],[442,.5],[443,.54],[443.8,.48],[444.6,.52],[445.4,.46],[446.4,.5],[447.2,.44],
[452.5,.84],[453.4,.48],[454,.44],[454.6,.52],[455.2,.58],[455.8,.5],[456.4,.62],[457,.56],[457.6,.66],[458.2,.6],[458.8,.7],[459.4,.64],[460,.72],[460.6,.66],[461.2,.74],[461.8,.68],[462.4,.76],[463,.7],[463.6,.74],[464.2,.68],[464.8,.72],[465.4,.66],[466,.7],[466.6,.64],[467.2,.68],[467.8,.62],[468.4,.66],[469,.6],[469.6,.64],[470.2,.58],[470.8,.62],[471.4,.56],[472,.6],[472.6,.54],[473.2,.58],[473.8,.52],[474.4,.56],[475,.5],[475.6,.54],[476.2,.48],[476.8,.52],[477.4,.46],[478,.5],[478.6,.44],[479.2,.48],[479.8,.42],[480.4,.46],[481,.4],[481.6,.44],[482.2,.38],[482.8,.42],[483.4,.36],[484,.4],[484.6,.34],[485.4,.38],[486.2,.32],
[497.4,.62],[498,.66],[498.6,.58],[499.2,.62],[499.8,.54],[500.4,.6],[501,.52],[501.6,.56],[502.2,.5],[502.8,.54],[503.4,.46],[504,.52],[504.6,.44],[505.2,.5],[505.8,.42],[506.4,.48],[507,.4],[507.6,.46],[508.2,.38],[508.8,.44],[509.4,.36],[510,.42],[510.6,.34],[511.2,.4],[511.8,.32],[512.4,.38],[513,.3],[513.6,.36],[514.2,.28],[514.8,.34],[515.4,.4],[516,.28],[516.6,.34],[517.2,.26],[517.8,.32],[518.4,.48],[519,.3],[519.6,.24],[520.2,.32],[520.8,.26],[521.4,.34],[522,.28],[522.6,.24],[523.2,.3],[523.8,.26],[524.4,.32],[525,.24],[525.6,.3],[526.2,.26],[526.8,.22],[527.4,.28],[528,.24],[528.8,.3],[529.6,.26],[530.4,.2],[531.2,.27],[532,.24],[533,.28],[534,.25],[535.5,.19],[536.6,.26],
[552.2,.52],[552.8,.5],[553.4,.54],[554,.5],[554.6,.52],[555.2,.48],[555.8,.54],[556.4,.5],[557,.52],[557.6,.48],[558.2,.55],[558.8,.5],[559.4,.52],[560,.56],[560.6,.5],[561.2,.62],[561.8,.66],[562.4,.7],[563,.64],[563.6,.6],[564.2,.66],[564.8,.7],[565.4,.62],[566,.58],[566.8,.64],[567.6,.6],[568.4,.56],[569.2,.6],[570,.52],[570.8,.6],
[578.2,.75],[578.8,.45],[579.4,.38],[580,.32],[580.6,.42],[581.2,.36],[581.8,.5],[582.4,.44],[583,.4],[583.6,.48],[584.2,.52],[584.8,.56],[585.4,.5],[586,.85],[586.6,.92],[587.2,.46],
[592.2,.4],[592.8,.35],[593.4,.44],[594,.4],[594.6,.48],[595.2,.44],[595.8,.52],[596.4,.48],[597,.56],[597.6,.52],[598.2,.6],[598.8,.55],[599.4,.62],[600,.56],[600.6,.6],[601.2,.52],[601.8,.58],[602.4,.5],[603,.55],[603.6,.48],[604.2,.52],[604.8,.46],[605.4,.5],[606,.35],[606.6,.48],[607.2,.44],
[612.8,.44],[613.4,.5],[614,.46],[614.6,.52],[615.2,.48],
[619.6,.77],[620.2,.7],[620.8,.62],[621.4,.68],[622,.6],[622.6,.66],[623.2,.58],[623.8,.64],[624.4,.68],[625,.6],[625.6,.66],[626.2,.58],[626.8,.64],[627.4,.6],[628,.56],[628.6,.62],[629.2,.58],[629.8,.64],[630.4,.56],[631,.62],[631.6,.58],[632.2,.54],[632.8,.6],[633.4,.56],[634,.62],[634.6,.56],[635.2,.6],[635.8,.54],[636.4,.58],[637,.52],[637.6,.58],[638.2,.54],[638.8,.6],[639.4,.52],[640,.56],[640.6,.5],[641.2,.37],[641.8,.54],[642.4,.5],[643,.56],[643.6,.5],[644.2,.58],[644.8,.52]];

var bliqBand = [0.5, 1.0];
var bliqBandSpan = [137.9, 703.4];

var timeDomain = [122.2, 719.1];
var hourTicks = [180, 240, 300, 360, 420, 480, 540, 600, 660];
var hourLabels = ["03:00", "04:00", "05:00", "06:00", "07:00", "08:00", "09:00", "10:00", "11:00"];

var diqTicks = [0, 0.5, 1, 1.5, 2, 2.5, 3];
var diqTickLabels = ["0", "0.5", "1", "1.5", "2", "2.5", "3"];
var gwTicks = [-1, 0, 1, 2];
var gwTickLabels = ["-1", "0", "1", "2"];
var bliqTicks = [0, 0.5, 1, 1.5];
var bliqTickLabels = ["0", "0.5", "1.0", "1.5"];

var width = 1400, height = 700;
var left = 44, right = 1377;

var svg = d3.select("body").append("svg")
    .attr("width", width)
    .attr("height", height);

var x = d3.scaleLinear().domain(timeDomain).range([left, right]);

// one panel frame: grid, ticks, labels, title
function frame(p) {
  var y = d3.scaleLinear().domain(p.domain).range([p.bottom, p.top]);
  var g = svg.append("g");

  function hlines(vals, cls, color, w) {
    g.selectAll("line." + cls).data(vals).join("line")
      .attr("class", cls)
      .attr("x1", left).attr("x2", right)
      .attr("y1", function(d) { return Math.round(y(d)) + 0.5; })
      .attr("y2", function(d) { return Math.round(y(d)) + 0.5; })
      .attr("stroke", color).attr("stroke-width", w);
  }
  var k0 = Math.ceil(p.domain[0] / p.minor - 1e-6), k1 = Math.floor(p.domain[1] / p.minor + 1e-6);
  hlines(d3.range(k0, k1 + 1).map(function(k) { return k * p.minor; }), "minor", "#e6e6e6", 1);
  if (p.mid) hlines(p.mid, "mid", "#a9a9a9", 1);
  hlines(p.ticks, "major", "#8c8c8c", 1);

  // x ticks point inward
  g.selectAll("line.xt").data(hourTicks).join("line")
    .attr("class", "xt")
    .attr("x1", function(d) { return Math.round(x(d)) + 0.5; })
    .attr("x2", function(d) { return Math.round(x(d)) + 0.5; })
    .attr("y1", p.bottom - 6).attr("y2", p.bottom)
    .attr("stroke", "#888");

  g.selectAll("text.xl").data(hourTicks).join("text")
    .attr("class", "xl")
    .attr("x", function(d) { return x(d); })
    .attr("y", p.bottom + 16)
    .attr("text-anchor", "middle")
    .attr("font-size", 16)
    .attr("fill", "#222")
    .text(function(d, i) { return hourLabels[i]; });

  g.selectAll("text.yl").data(p.ticks).join("text")
    .attr("class", "yl")
    .attr("x", 40)
    .attr("y", function(d) { return y(d); })
    .attr("dy", "0.36em")
    .attr("text-anchor", "end")
    .attr("font-size", 16)
    .attr("fill", "#222")
    .text(function(d, i) { return p.labels[i]; });

  g.append("text")
    .attr("x", (left + right) / 2)
    .attr("y", p.titleY)
    .attr("text-anchor", "middle")
    .attr("font-size", 15)
    .text(p.title);

  p.y = y;
  p.g = g;
  return p;
}

function spines(p) {
  p.g.append("line").attr("x1", left + 0.5).attr("x2", left + 0.5)
    .attr("y1", p.top).attr("y2", p.bottom).attr("stroke", "#000");
  p.g.append("line").attr("x1", left).attr("x2", right)
    .attr("y1", p.bottom + 0.5).attr("y2", p.bottom + 0.5).attr("stroke", "#000");
}

var xMark = "M-4,-4L4,4M-4,4L4,-4";
var plusMark = "M-5,0H5M0,-5V5";
var diamondMark = "M0,-5.5L4.3,0L0,5.5L-4.3,0Z";
var triMark = "M-4,-3L4,-3L0,4Z";

function marks(g, data, y, cls, path) {
  return g.selectAll("path." + cls).data(data).join("path")
    .attr("class", cls)
    .attr("d", path)
    .attr("transform", function(d) { return "translate(" + x(d[0]) + "," + y(d[1]) + ")"; });
}

// ---------- DIQ panel ----------
var diq = frame({top: 40, bottom: 339, domain: [-0.21, 3.5], minor: 0.1,
  ticks: diqTicks, labels: diqTickLabels, title: "DIQ - 2025-04-16", titleY: 30});
var yd = diq.y;

marks(diq.g, gc1, yd, "gc1", xMark)
  .attr("fill", "none").attr("stroke", "#d9a24e").attr("stroke-width", 2).attr("stroke-opacity", 0.72);

marks(diq.g, gc2, yd, "gc2", plusMark)
  .attr("fill", "none").attr("stroke", "#2a8080").attr("stroke-width", 1.7).attr("stroke-opacity", 0.7);

var line = d3.line().x(function(d) { return x(d[0]); });

diq.g.append("path").datum(wfs1)
  .attr("d", line.y(function(d) { return yd(d[1]); }))
  .attr("fill", "none").attr("stroke", "#c8c8c8").attr("stroke-width", 1);

marks(diq.g, wfs1, yd, "wfs1", diamondMark)
  .attr("fill", "#ffb800").attr("stroke", "#ff2800").attr("stroke-width", 1.1);

marks(diq.g, wfs2, yd, "wfs2", triMark)
  .attr("fill", "#505560");

diq.g.append("path").datum(dimm)
  .attr("d", line.y(function(d) { return yd(d[1]); }))
  .attr("fill", "none").attr("stroke", "#1010e8").attr("stroke-width", 1.7);

diq.g.selectAll("circle.dimm").data(dimm).join("circle")
  .attr("class", "dimm")
  .attr("cx", function(d) { return x(d[0]); })
  .attr("cy", function(d) { return yd(d[1]); })
  .attr("r", 3.3)
  .attr("fill", "#eeee55").attr("stroke", "#1010e8").attr("stroke-width", 1.6);

spines(diq);

// legend
var lg = svg.append("g");
lg.append("rect").attr("x", 65.5).attr("y", 45.5).attr("width", 175).attr("height", 91.5)
  .attr("fill", "#fff").attr("stroke", "#666").attr("stroke-width", 1.3);
var legendItems = [
  {name: "gc1", cx: 83, cy: 65, tx: 103, ty: 71},
  {name: "gc2", cx: 179, cy: 65, tx: 198, ty: 71},
  {name: "wfs1", cx: 83, cy: 90, tx: 103, ty: 96},
  {name: "wfs2", cx: 179, cy: 90, tx: 198, ty: 96},
  {name: "dimm", cx: 84, cy: 115, tx: 103, ty: 121}
];
legendItems.forEach(function(it) {
  var g = lg.append("g");
  if (it.name == "gc1") {
    g.append("path").attr("d", "M-3.5,-3.5L3.5,3.5M-3.5,3.5L3.5,-3.5")
      .attr("transform", "translate(" + it.cx + "," + it.cy + ")")
      .attr("stroke", "#d9a24e").attr("stroke-width", 1.8).attr("stroke-opacity", 0.8);
  } else if (it.name == "gc2") {
    g.append("path").attr("d", "M-5,0H5M0,-5V5")
      .attr("transform", "translate(" + it.cx + "," + it.cy + ")")
      .attr("stroke", "#2a8080").attr("stroke-width", 1.6).attr("stroke-opacity", 0.75);
  } else if (it.name == "wfs1") {
    g.append("line").attr("x1", it.cx - 11).attr("x2", it.cx + 11).attr("y1", it.cy).attr("y2", it.cy)
      .attr("stroke", "#d0d0d0").attr("stroke-width", 1.5);
    g.append("path").attr("d", "M0,-5L3.8,0L0,5L-3.8,0Z")
      .attr("transform", "translate(" + it.cx + "," + it.cy + ")")
      .attr("fill", "#ffb800").attr("stroke", "#ff2800");
  } else if (it.name == "wfs2") {
    g.append("line").attr("x1", it.cx - 11).attr("x2", it.cx + 11).attr("y1", it.cy).attr("y2", it.cy)
      .attr("stroke", "#d0d0d0").attr("stroke-width", 1.5);
    g.append("path").attr("d", "M-4,-4L4,-4L0,3Z")
      .attr("transform", "translate(" + it.cx + "," + it.cy + ")")
      .attr("fill", "#505560");
  } else {
    g.append("line").attr("x1", it.cx - 11).attr("x2", it.cx + 11).attr("y1", it.cy).attr("y2", it.cy)
      .attr("stroke", "#1010e8").attr("stroke-width", 1.8);
    g.append("circle").attr("cx", it.cx).attr("cy", it.cy).attr("r", 3.3)
      .attr("fill", "#eeee55").attr("stroke", "#1010e8").attr("stroke-width", 1.5);
  }
  g.append("text").attr("x", it.tx).attr("y", it.ty).attr("font-size", 12.7).text(it.name);
});

// ---------- Guider - WFS panel ----------
var gw = frame({top: 397, bottom: 505, domain: [-1.32, 2.44], minor: 0.1, mid: [-0.5, 0.5, 1.5],
  ticks: gwTicks, labels: gwTickLabels, title: "Guider \u2014 WFS", titleY: 387});

gw.g.append("path").datum(guiderWfs)
  .attr("d", d3.line().x(function(d) { return x(d[0]); }).y(function(d) { return gw.y(d[1]); }))
  .attr("fill", "none").attr("stroke", "#c8c8c8").attr("stroke-width", 1);

gw.g.selectAll("circle.gw").data(guiderWfs).join("circle")
  .attr("class", "gw")
  .attr("cx", function(d) { return x(d[0]); })
  .attr("cy", function(d) { return gw.y(d[1]); })
  .attr("r", 5.8)
  .attr("fill", "#800080").attr("stroke", "#d4c4da").attr("stroke-width", 1.4);

marks(gw.g, guiderWfsFlagged, gw.y, "flag", xMark)
  .attr("fill", "none").attr("stroke", "#ff1010").attr("stroke-width", 2.4);

spines(gw);

// ---------- BLIQ panel ----------
var bq = frame({top: 561, bottom: 672, domain: [-0.2, 1.96], minor: 0.05,
  ticks: bliqTicks, labels: bliqTickLabels, title: "BLIQ+HO+LO \u2014 BLIQ+HO", titleY: 553});

bq.g.append("rect")
  .attr("x", x(bliqBandSpan[0])).attr("width", x(bliqBandSpan[1]) - x(bliqBandSpan[0]))
  .attr("y", bq.y(bliqBand[1])).attr("height", bq.y(bliqBand[0]) - bq.y(bliqBand[1]))
  .attr("fill", "#f08080").attr("fill-opacity", 0.12);

bq.g.selectAll("line.lim").data(bliqBand).join("line")
  .attr("class", "lim")
  .attr("x1", x(bliqBandSpan[0])).attr("x2", x(bliqBandSpan[1]))
  .attr("y1", function(d) { return bq.y(d); }).attr("y2", function(d) { return bq.y(d); })
  .attr("stroke", "#cc2222").attr("stroke-width", 1.2).attr("stroke-dasharray", "4,2");

bq.g.selectAll("circle.bq").data(bliqDiff).join("circle")
  .attr("class", "bq")
  .attr("cx", function(d) { return x(d[0]); })
  .attr("cy", function(d) { return bq.y(d[1]); })
  .attr("r", 4.8)
  .attr("fill", "#000080").attr("stroke", "#c4c6d8").attr("stroke-width", 1.2);

spines(bq);
</script>
</body>
</html>
